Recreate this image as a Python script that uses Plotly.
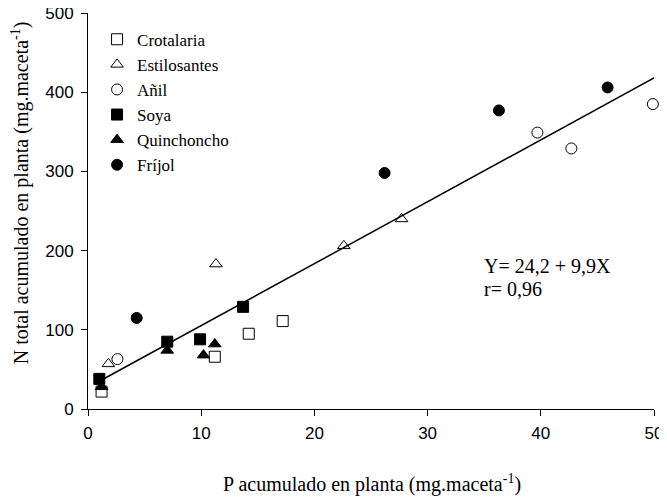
import plotly.graph_objects as go

# P acumulado (x) y N total acumulado (y) por especie
crot_x = [1.2, 11.2, 14.2, 17.2]
crot_y = [22, 66, 95, 111]
esti_x = [1.8, 11.3, 22.6, 27.7]
esti_y = [57, 183, 206, 240]
anil_x = [2.6, 39.7, 42.7, 49.9]
anil_y = [63, 349, 329, 385]
soya_x = [1.0, 7.0, 9.9, 13.7]
soya_y = [38, 85, 88, 129]
quin_x = [1.2, 7.0, 10.2, 11.2]
quin_y = [28, 74, 68, 82]
frij_x = [4.3, 26.2, 36.3, 45.9]
frij_y = [115, 298, 377, 406]

fit_x = [1.0, 50.0]
fit_y = [35, 418]

series = [
    ("Crotalaria", crot_x, crot_y, "square-open"),
    ("Estilosantes", esti_x, esti_y, "triangle-up-open"),
    ("Añil", anil_x, anil_y, "circle-open"),
    ("Soya", soya_x, soya_y, "square"),
    ("Quinchoncho", quin_x, quin_y, "triangle-up"),
    ("Fríjol", frij_x, frij_y, "circle"),
]

serif = dict(family="Liberation Serif", size=20, color="black")

fig = go.Figure()
fig.add_trace(go.Scatter(x=fit_x, y=fit_y, mode="lines", line=dict(color="black", width=1.5),
                         showlegend=False, hoverinfo="skip"))
for name, xs, ys, sym in series:
    fig.add_trace(go.Scatter(x=xs, y=ys, mode="markers", name=name, cliponaxis=False,
                             marker=dict(symbol=sym, size=11, color="black",
                                         line=dict(color="black", width=1))))

# regression text, one annotation per line to keep the tight spacing
fig.add_annotation(x=0.696, y=0.361, xref="paper", yref="paper", xanchor="left", yanchor="middle",
                   text="Y= 24,2 + 9,9X", showarrow=False, font=serif)
fig.add_annotation(x=0.696, y=0.303, xref="paper", yref="paper", xanchor="left", yanchor="middle",
                   text="r= 0,96", showarrow=False, font=serif)
# axis titles
fig.add_annotation(x=0.502, y=-0.187, xref="paper", yref="paper", xanchor="center", yanchor="middle",
                   text="P acumulado en planta (mg.maceta<sup>-1</sup>)", showarrow=False, font=serif)
fig.add_annotation(x=-0.12, y=0.545, xref="paper", yref="paper", xanchor="center", yanchor="middle",
                   text="N total acumulado en planta (mg.maceta<sup>-1</sup>)", showarrow=False,
                   textangle=-90, font=serif)

axis_style = dict(showline=True, linecolor="black", linewidth=1, ticks="outside", ticklen=6,
                  tickcolor="black", showgrid=False, zeroline=False, automargin=False,
                  ticklabeloverflow="allow",
                  tickfont=dict(family="Liberation Sans", size=17, color="black"))
fig.update_xaxes(range=[0, 50], dtick=10, ticklabelstandoff=3, **axis_style)
fig.update_yaxes(range=[0, 500], dtick=100, ticklabelstandoff=4, **axis_style)

# the page body adds an 8px offset, so the figure is sized to compensate
fig.update_layout(
    width=659, height=489,
    margin=dict(l=80, r=13, t=5, b=88),
    plot_bgcolor="white", paper_bgcolor="white",
    legend=dict(x=0.016, y=0.978, xanchor="left", yanchor="top", tracegroupgap=0,
                font=dict(family="Liberation Serif", size=17, color="black"),
                bgcolor="rgba(0,0,0,0)"),
)

fig.write_html("out.html")
